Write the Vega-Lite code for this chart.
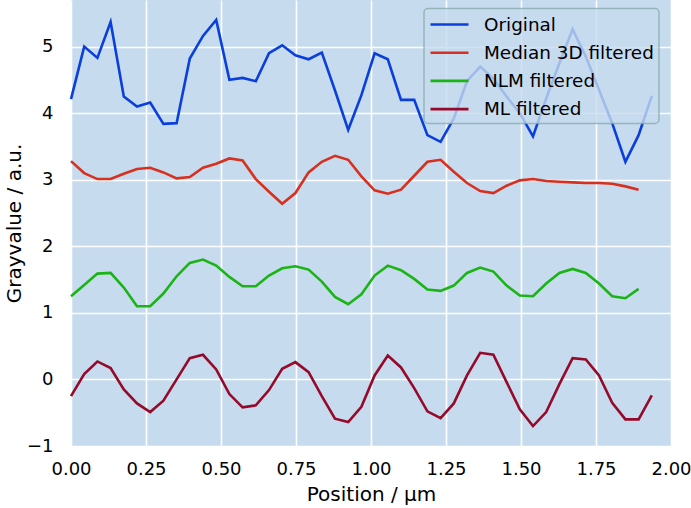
{
  "$schema": "https://vega.github.io/schema/vega-lite/v6.json",
  "width": 600,
  "height": 446,
  "autosize": {"type": "none"},
  "padding": {"left": 71, "top": 0, "right": 20, "bottom": 62},
  "background": "white",
  "config": {
    "view": {"fill": "#c6dbee", "stroke": null},
    "font": "DejaVu Sans",
    "axis": {
      "domain": false,
      "ticks": false,
      "labelFlush": false,
      "gridColor": "white",
      "gridWidth": 1.6,
      "gridOpacity": 1,
      "labelFont": "DejaVu Sans",
      "labelFontSize": 18,
      "labelColor": "#000000",
      "titleFont": "DejaVu Sans",
      "titleFontSize": 20,
      "titleFontWeight": "normal",
      "titleColor": "#000000"
    },
    "legend": {
      "orient": "none",
      "legendX": 353,
      "legendY": 8.5,
      "fillColor": "rgba(198,219,238,0.8)",
      "strokeColor": "rgba(130,165,165,0.7)",
      "strokeWidth": 1.5,
      "cornerRadius": 4,
      "padding": 5,
      "labelFont": "DejaVu Sans",
      "labelFontSize": 18.4,
      "labelLimit": 400,
      "labelColor": "#000000",
      "symbolType": "M-1,0H3",
      "symbolSize": 361,
      "symbolStrokeWidth": 2.6,
      "labelOffset": 33,
      "rowPadding": 7.2
    }
  },
  "data": {
    "values": [
      {"x": 0.000, "Original": 4.21, "Median 3D filtered": 3.28, "NLM filtered": 1.25, "ML filtered": -0.25},
      {"x": 0.044, "Original": 5.00, "Median 3D filtered": 3.10, "NLM filtered": 1.42, "ML filtered": 0.08},
      {"x": 0.088, "Original": 4.83, "Median 3D filtered": 3.01, "NLM filtered": 1.59, "ML filtered": 0.27},
      {"x": 0.132, "Original": 5.37, "Median 3D filtered": 3.01, "NLM filtered": 1.60, "ML filtered": 0.17},
      {"x": 0.176, "Original": 4.25, "Median 3D filtered": 3.09, "NLM filtered": 1.38, "ML filtered": -0.15},
      {"x": 0.220, "Original": 4.10, "Median 3D filtered": 3.16, "NLM filtered": 1.10, "ML filtered": -0.36},
      {"x": 0.264, "Original": 4.16, "Median 3D filtered": 3.18, "NLM filtered": 1.10, "ML filtered": -0.49},
      {"x": 0.308, "Original": 3.84, "Median 3D filtered": 3.11, "NLM filtered": 1.29, "ML filtered": -0.32},
      {"x": 0.352, "Original": 3.85, "Median 3D filtered": 3.02, "NLM filtered": 1.55, "ML filtered": 0.00},
      {"x": 0.396, "Original": 4.82, "Median 3D filtered": 3.04, "NLM filtered": 1.75, "ML filtered": 0.32},
      {"x": 0.440, "Original": 5.16, "Median 3D filtered": 3.18, "NLM filtered": 1.80, "ML filtered": 0.37},
      {"x": 0.484, "Original": 5.40, "Median 3D filtered": 3.24, "NLM filtered": 1.71, "ML filtered": 0.15},
      {"x": 0.528, "Original": 4.50, "Median 3D filtered": 3.32, "NLM filtered": 1.54, "ML filtered": -0.22},
      {"x": 0.572, "Original": 4.53, "Median 3D filtered": 3.29, "NLM filtered": 1.40, "ML filtered": -0.42},
      {"x": 0.616, "Original": 4.48, "Median 3D filtered": 3.01, "NLM filtered": 1.40, "ML filtered": -0.39},
      {"x": 0.660, "Original": 4.90, "Median 3D filtered": 2.82, "NLM filtered": 1.56, "ML filtered": -0.16},
      {"x": 0.704, "Original": 5.02, "Median 3D filtered": 2.64, "NLM filtered": 1.67, "ML filtered": 0.16},
      {"x": 0.748, "Original": 4.87, "Median 3D filtered": 2.80, "NLM filtered": 1.70, "ML filtered": 0.26},
      {"x": 0.792, "Original": 4.81, "Median 3D filtered": 3.11, "NLM filtered": 1.65, "ML filtered": 0.11},
      {"x": 0.836, "Original": 4.91, "Median 3D filtered": 3.27, "NLM filtered": 1.47, "ML filtered": -0.25},
      {"x": 0.880, "Original": 4.34, "Median 3D filtered": 3.36, "NLM filtered": 1.24, "ML filtered": -0.59},
      {"x": 0.924, "Original": 3.75, "Median 3D filtered": 3.30, "NLM filtered": 1.13, "ML filtered": -0.64},
      {"x": 0.968, "Original": 4.27, "Median 3D filtered": 3.05, "NLM filtered": 1.28, "ML filtered": -0.41},
      {"x": 1.012, "Original": 4.90, "Median 3D filtered": 2.84, "NLM filtered": 1.56, "ML filtered": 0.06},
      {"x": 1.056, "Original": 4.81, "Median 3D filtered": 2.79, "NLM filtered": 1.71, "ML filtered": 0.36},
      {"x": 1.100, "Original": 4.20, "Median 3D filtered": 2.85, "NLM filtered": 1.64, "ML filtered": 0.18},
      {"x": 1.144, "Original": 4.20, "Median 3D filtered": 3.06, "NLM filtered": 1.51, "ML filtered": -0.13},
      {"x": 1.188, "Original": 3.67, "Median 3D filtered": 3.27, "NLM filtered": 1.35, "ML filtered": -0.48},
      {"x": 1.232, "Original": 3.57, "Median 3D filtered": 3.30, "NLM filtered": 1.33, "ML filtered": -0.58},
      {"x": 1.276, "Original": 3.92, "Median 3D filtered": 3.12, "NLM filtered": 1.41, "ML filtered": -0.36},
      {"x": 1.320, "Original": 4.48, "Median 3D filtered": 2.95, "NLM filtered": 1.60, "ML filtered": 0.06},
      {"x": 1.364, "Original": 4.70, "Median 3D filtered": 2.83, "NLM filtered": 1.68, "ML filtered": 0.40},
      {"x": 1.408, "Original": 4.52, "Median 3D filtered": 2.80, "NLM filtered": 1.62, "ML filtered": 0.37},
      {"x": 1.452, "Original": 4.25, "Median 3D filtered": 2.91, "NLM filtered": 1.41, "ML filtered": -0.04},
      {"x": 1.496, "Original": 4.00, "Median 3D filtered": 2.99, "NLM filtered": 1.26, "ML filtered": -0.45},
      {"x": 1.540, "Original": 3.65, "Median 3D filtered": 3.01, "NLM filtered": 1.25, "ML filtered": -0.70},
      {"x": 1.584, "Original": 4.22, "Median 3D filtered": 2.98, "NLM filtered": 1.44, "ML filtered": -0.49},
      {"x": 1.628, "Original": 4.75, "Median 3D filtered": 2.97, "NLM filtered": 1.60, "ML filtered": -0.07},
      {"x": 1.672, "Original": 5.26, "Median 3D filtered": 2.96, "NLM filtered": 1.66, "ML filtered": 0.32},
      {"x": 1.716, "Original": 4.85, "Median 3D filtered": 2.95, "NLM filtered": 1.60, "ML filtered": 0.30},
      {"x": 1.760, "Original": 4.35, "Median 3D filtered": 2.95, "NLM filtered": 1.44, "ML filtered": 0.06},
      {"x": 1.804, "Original": 3.85, "Median 3D filtered": 2.94, "NLM filtered": 1.25, "ML filtered": -0.35},
      {"x": 1.848, "Original": 3.27, "Median 3D filtered": 2.90, "NLM filtered": 1.22, "ML filtered": -0.60},
      {"x": 1.892, "Original": 3.67, "Median 3D filtered": 2.85, "NLM filtered": 1.36, "ML filtered": -0.60},
      {"x": 1.936, "Original": 4.26, "Median 3D filtered": null, "NLM filtered": null, "ML filtered": -0.24}
    ]
  },
  "transform": [
    {"fold": ["Original", "Median 3D filtered", "NLM filtered", "ML filtered"], "as": ["series", "value"]}
  ],
  "mark": {"type": "line", "strokeWidth": 2.6, "interpolate": "linear"},
  "encoding": {
    "x": {
      "field": "x",
      "type": "quantitative",
      "scale": {"domain": [0, 2], "nice": false, "zero": false},
      "axis": {"values": [0, 0.25, 0.5, 0.75, 1, 1.25, 1.5, 1.75, 2], "format": ".2f", "title": "Position / µm", "labelPadding": 14, "titlePadding": 6}
    },
    "y": {
      "field": "value",
      "type": "quantitative",
      "scale": {"domain": [-1, 5.7], "nice": false, "zero": false},
      "axis": {"values": [-1, 0, 1, 2, 3, 4, 5], "title": "Grayvalue / a.u.", "labelExpr": "replace(datum.label, '-', '−')", "labelPadding": 18, "titlePadding": 2}
    },
    "color": {
      "field": "series",
      "type": "nominal",
      "sort": ["Original", "Median 3D filtered", "NLM filtered", "ML filtered"],
      "scale": {"domain": ["Original", "Median 3D filtered", "NLM filtered", "ML filtered"], "range": ["#0b3fdc", "#d7301f", "#1ab414", "#950a2a"]},
      "legend": {"title": null}
    }
  }
}
